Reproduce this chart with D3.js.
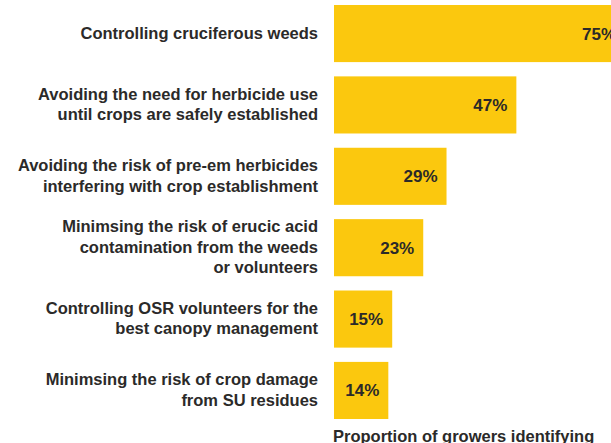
<!DOCTYPE html>
<html>
<head>
<meta charset="utf-8">
<script src="https://cdn.jsdelivr.net/npm/d3@7"></script>
<style>
  html, body { margin: 0; padding: 0; background: #fff; overflow: hidden; }
  svg { display: block; }
  text { font-family: "Liberation Sans", Arial, Helvetica, sans-serif; fill: #2b2a29; font-weight: bold; }
</style>
</head>
<body>
<div id="chart"></div>
<script>
// reasons given by growers, one array entry per bar (lines split as in the original)
var categories = [
  ["Controlling cruciferous weeds"],
  ["Avoiding the need for herbicide use", "until crops are safely established"],
  ["Avoiding the risk of pre-em herbicides", "interfering with crop establishment"],
  ["Minimsing the risk of erucic acid", "contamination from the weeds", "or volunteers"],
  ["Controlling OSR volunteers for the", "best canopy management"],
  ["Minimsing the risk of crop damage", "from SU residues"]
]
var values = [75, 47, 29, 23, 15, 14]
var axisTitle = "Proportion of growers identifying"

var width = 611, height = 443
var barLeft = 334

var svg = d3.select("#chart")
  .append("svg")
    .attr("width", width)
    .attr("height", height)

var x = d3.scaleLinear()
  .domain([0, 100])
  .range([barLeft, barLeft + 388])

var y = d3.scaleBand()
  .domain(d3.range(values.length))
  .range([5, 419])
  .paddingInner(0.2)
  .paddingOuter(0)

var rows = svg.append("g")
  .selectAll("g")
  .data(values)
  .enter()
  .append("g")

// bars
rows.append("rect")
  .attr("x", x(0))
  .attr("y", function(d, i) { return y(i) })
  .attr("width", function(d) { return x(d) - x(0) })
  .attr("height", y.bandwidth())
  .attr("fill", "#fbc80e")

// value labels, right aligned inside the bar
rows.append("text")
  .attr("x", function(d) { return x(d) - 9 })
  .attr("y", function(d, i) { return y(i) + y.bandwidth() / 2 + 6 })
  .attr("text-anchor", "end")
  .style("font-size", "17px")
  .text(function(d) { return d + "%" })

// category labels, multi-line, right aligned before the bar
var lineH = 20.5
rows.append("text")
  .attr("text-anchor", "end")
  .style("font-size", "16.5px")
  .each(function(d, i) {
    var lines = categories[i]
    var cy = y(i) + y.bandwidth() / 2
    var first = cy - (lines.length - 1) * lineH / 2 + 5
    d3.select(this).selectAll("tspan")
      .data(lines)
      .enter()
      .append("tspan")
        .attr("x", 318)
        .attr("y", function(l, j) { return first + j * lineH })
        .text(function(l) { return l })
  })

// axis title, cut by the bottom edge like the original
svg.append("text")
  .attr("x", 333)
  .attr("y", 442)
  .style("font-size", "16.5px")
  .text(axisTitle)
</script>
</body>
</html>
